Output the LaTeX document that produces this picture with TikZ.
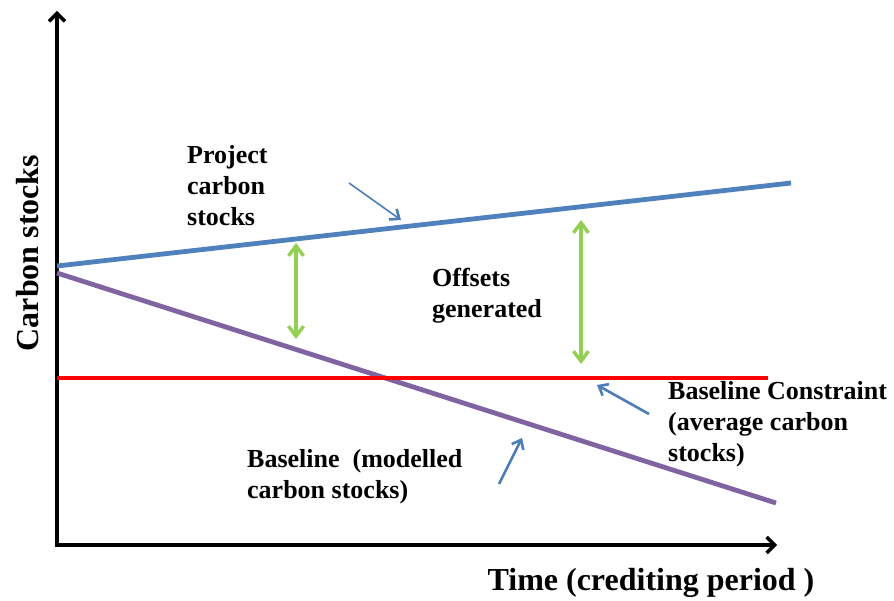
\documentclass[tikz,border=0pt]{standalone}
\usepackage{fontspec}
\setmainfont{Liberation Serif}
\usetikzlibrary{arrows.meta}
\definecolor{projblue}{HTML}{4F81BD}
\definecolor{basepurple}{HTML}{8064A2}
\definecolor{offgreen}{HTML}{92D050}
\definecolor{pointblue}{HTML}{4A7EBB}
\tikzset{
  axis/.style={line width=3.4pt, -{Straight Barb[length=8pt,width=16pt,line width=3.4pt]}},
  trend/.style={line width=4.8pt},
  offset/.style={offgreen, line width=3.4pt, {Straight Barb[length=10pt,width=15pt,line width=3.4pt]}-{Straight Barb[length=10pt,width=15pt,line width=3.4pt]}},
  pointer/.style={pointblue, line width=2.6pt, -{Straight Barb[length=8pt,width=13pt,line width=2.6pt]}},
  lbl/.style={font=\fontsize{26}{31}\selectfont\bfseries, align=left, inner sep=0pt},
  axlbl/.style={font=\fontsize{32}{36}\selectfont\bfseries, inner sep=0pt}
}
\begin{document}
\begin{tikzpicture}[x=1pt, y=-1pt]
\useasboundingbox (0,0) rectangle (894,601);

% axes
\coordinate (o) at (57,545);
\coordinate (ytop) at (57,11);
\coordinate (xend) at (777,545);
\draw[axis] (o) -- (ytop);
\draw[axis] ([xshift=-1.7pt]o) -- (xend);

% carbon stock trends
\coordinate (p0) at (57,266);
\coordinate (p1) at (791,183);
\coordinate (b0) at (57,273);
\coordinate (b1) at (776,503);
\coordinate (c0) at (57,378);
\coordinate (c1) at (768,378);
\draw[trend, projblue] (p0) -- (p1);
\draw[trend, basepurple] (b0) -- (b1);
\draw[line width=4pt, red] (c0) -- (c1);

% offsets between project and baseline
\coordinate (g1a) at (296,243);
\coordinate (g1b) at (296,339);
\coordinate (g2a) at (581,220);
\coordinate (g2b) at (581,364);
\draw[offset] (g1a) -- (g1b);
\draw[offset] (g2a) -- (g2b);

% labels
\node[lbl, anchor=west] (proj) at (187,186) {Project\\carbon\\stocks};
\node[lbl, anchor=west] (offs) at (432,296) {Offsets\\generated};
\node[lbl, anchor=west] (cons) at (668,424) {Baseline Constraint\\(average carbon\\stocks)};
\node[lbl, anchor=west] (base) at (247,477) {Baseline~~(modelled\\carbon stocks)};
\node[axlbl] (tlbl) at (651,583) {Time (crediting period )};
\node[axlbl, rotate=90] (clbl) at (28,253) {Carbon stocks};

% pointers
\coordinate (a1s) at (349,183);
\coordinate (a1e) at (401,220);
\coordinate (a2s) at (499,484);
\coordinate (a2e) at (522,438);
\coordinate (a3s) at (649,414);
\coordinate (a3e) at (597,385);
\draw[pointer, line width=1.6pt] (a1s) -- (a1e);
\draw[pointer] (a2s) -- (a2e);
\draw[pointer] (a3s) -- (a3e);
\end{tikzpicture}
\end{document}
